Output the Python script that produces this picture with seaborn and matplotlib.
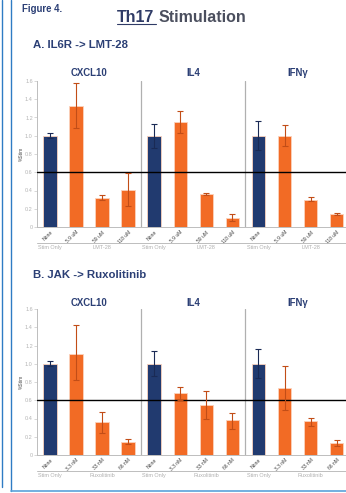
import numpy as np
import pandas as pd
import matplotlib
matplotlib.use("Agg")
import matplotlib.pyplot as plt
import matplotlib.transforms as mtransforms
from matplotlib.lines import Line2D
import seaborn as sns

# ---- data ----
cytokines = ["CXCL10", "IL4", "IFNγ"]
doses_a = ["None", "5.9 uM", "59 uM", "118 uM"]
doses_b = ["None", "3.3 nM", "33 nM", "66 nM"]
drug_a = "LMT-28"
drug_b = "Ruxolitinib"

a_mean = [1.00, 1.33, 0.32, 0.41, 1.00, 1.15, 0.36, 0.10, 1.00, 1.00, 0.30, 0.14]
a_lo = [0.97, 1.08, 0.30, 0.23, 0.87, 1.03, 0.35, 0.065, 0.84, 0.89, 0.28, 0.13]
a_hi = [1.03, 1.58, 0.35, 0.59, 1.13, 1.27, 0.37, 0.14, 1.16, 1.12, 0.33, 0.155]

b_mean = [1.00, 1.11, 0.36, 0.14, 1.00, 0.68, 0.55, 0.38, 1.00, 0.73, 0.37, 0.13]
b_lo = [0.97, 0.82, 0.24, 0.12, 0.87, 0.60, 0.40, 0.29, 0.84, 0.49, 0.32, 0.10]
b_hi = [1.03, 1.42, 0.47, 0.17, 1.14, 0.75, 0.70, 0.46, 1.16, 0.97, 0.41, 0.16]

ref_line = 0.6

NAVY = "#213a6f"
ORANGE = "#f26b25"
TITLE = "#2b3f75"
palette = {"Stim Only": NAVY, "drug": ORANGE}
err_colors = {"Stim Only": "#1a2a55", "drug": "#c24d17"}

sns.set_theme(style="white")
plt.rcParams["font.family"] = ["Liberation Sans", "DejaVu Sans"]

W, H = 346, 493
fig = plt.figure(figsize=(W / 100, H / 100), dpi=100)
fig.patch.set_facecolor("white")


def fx(px):
    return px / W


def fy(py):
    return 1 - py / H


def build(doses, means, lo, hi):
    rows = []
    i = 0
    for c in cytokines:
        for d in doses:
            rows.append({"key": f"{c}|{d}", "dose": d,
                         "kind": "Stim Only" if d == "None" else "drug",
                         "mean": means[i], "lo": lo[i], "hi": hi[i]})
            i += 1
    return pd.DataFrame(rows)


def panel(ax, df, drug, title_y):
    sns.barplot(data=df, x="key", y="mean", hue="kind", order=list(df["key"]),
                palette=palette, saturation=1, dodge=False, errorbar=None, width=0.52,
                edgecolor="#fbd2bd", linewidth=0.6, legend=False, ax=ax)
    x = np.arange(len(df))
    for kind in ["Stim Only", "drug"]:
        m = (df["kind"] == kind).values
        yerr = np.vstack([df["mean"][m] - df["lo"][m], df["hi"][m] - df["mean"][m]])
        ax.errorbar(x[m], df["mean"][m], yerr=yerr, fmt="none",
                    ecolor=err_colors[kind], elinewidth=0.8, capsize=2.4,
                    capthick=0.8, zorder=5)

    ax.set_xlim(-0.5, len(df) - 0.5)
    ax.set_ylim(0, 1.6)
    ax.set_yticks(np.arange(0, 1.61, 0.2))
    ax.set_yticklabels(["0"] + [f"{v:.1f}" for v in np.arange(0.2, 1.61, 0.2)])
    ax.set_xticks(x)
    ax.set_xticklabels(df["dose"], rotation=45, ha="right", rotation_mode="anchor")
    ax.tick_params(axis="y", labelsize=4, labelcolor="#b5b5b5", color="#c8c8c8",
                   length=2, width=0.5, pad=1, left=True)
    ax.tick_params(axis="x", labelsize=3.6, labelcolor="#444444", length=0, pad=2)
    ax.set_xlabel("")
    ax.set_ylabel("%Stim", fontsize=3.6, color="#555555")
    ax.yaxis.set_label_coords(-0.042, 0.5)

    for s in ["top", "right"]:
        ax.spines[s].set_visible(False)
    for s in ["left", "bottom"]:
        ax.spines[s].set_color("#bdbdbd")
        ax.spines[s].set_linewidth(0.7)

    ax.axhline(ref_line, color="black", lw=1.0, zorder=4)
    for xs in [3.5, 7.5]:
        ax.plot([xs, xs], [0, 1.6], color="#b0b0b0", lw=0.9, zorder=1)

    tr = mtransforms.blended_transform_factory(ax.transData, ax.transAxes)
    ax.plot([-0.5, len(df) - 0.5], [-0.107, -0.107], transform=tr,
            color="#bdbdbd", lw=0.7, clip_on=False)
    for g in range(len(cytokines)):
        ax.text(4 * g, -0.14, "Stim Only", transform=tr, ha="center", va="center",
                fontsize=4, color="#b0b0b0")
        ax.text(4 * g + 2, -0.14, drug, transform=tr, ha="center", va="center",
                fontsize=4, color="#b0b0b0")
        ax.text(4 * g + 1.5, fy(title_y), cytokines[g],
                transform=mtransforms.blended_transform_factory(ax.transData, fig.transFigure),
                ha="center", va="center", fontsize=6.9, fontweight="bold", color=TITLE)


df_a = build(doses_a, a_mean, a_lo, a_hi)
df_b = build(doses_b, b_mean, b_lo, b_hi)

ax_w = (349.7 - 37) / W
ax_h = 146 / H
ax_a = fig.add_axes([fx(37), fy(227), ax_w, ax_h])
ax_b = fig.add_axes([fx(37), fy(455), ax_w, ax_h])
panel(ax_a, df_a, drug_a, 72.5)
panel(ax_b, df_b, drug_b, 303)

# headings
fig.text(fx(22), fy(9.5), "Figure 4.", fontsize=6.9, fontweight="bold",
         color=TITLE, ha="left", va="center")
fig.text(fx(117), fy(22), "Th17", fontsize=11.5, fontweight="bold",
         color="#2f3b66", ha="left", va="baseline")
fig.text(fx(158.5), fy(22), "Stimulation", fontsize=11.5, fontweight="bold",
         color="#4b4f5e", ha="left", va="baseline")
fig.add_artist(Line2D([fx(117), fx(156)], [fy(24), fy(24)], color="#2f3b66", lw=0.8))
fig.text(fx(33), fy(45), "A. IL6R -> LMT-28", fontsize=8.2, fontweight="bold",
         color=TITLE, ha="left", va="center")
fig.text(fx(33), fy(275), "B. JAK -> Ruxolitinib", fontsize=8.2, fontweight="bold",
         color=TITLE, ha="left", va="center")

# page frame
fig.add_artist(Line2D([fx(2), fx(2)], [fy(0), fy(486.5)], color="#2f7cc4", lw=1.0))
fig.add_artist(Line2D([fx(11), fx(11)], [fy(0), fy(491)], color="#2f7cc4", lw=1.0))
fig.add_artist(Line2D([fx(11), fx(346)], [fy(491), fy(491)], color="#5aa2da", lw=1.2))

fig.savefig("out.png", dpi=100, facecolor="white")
